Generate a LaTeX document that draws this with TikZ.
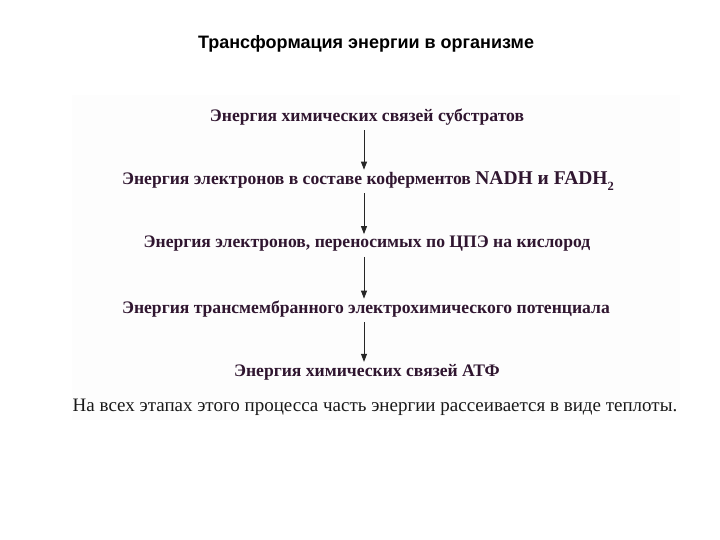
\documentclass[tikz,border=0pt]{standalone}
\usepackage{fontspec}
\setmainfont{Liberation Serif}
\newfontfamily\titlefont{Liberation Sans}
\usepackage{tikz}
\usetikzlibrary{arrows.meta}
\definecolor{inkplum}{RGB}{48,22,48}
\definecolor{scanbg}{RGB}{253,253,253}
\newcommand{\subtwo}{\raisebox{-0.6ex}{\fontsize{12.5}{13}\selectfont 2}}
\tikzset{
    stage/.style={inner sep=0pt, text=inkplum, font=\fontsize{17.6}{20}\selectfont\bfseries},
    flow/.style={-{Triangle[length=8pt,width=6pt]}, line width=0.9pt, black!85, shorten >=2pt},
}

\begin{document}
\begin{tikzpicture}[x=1pt,y=-1pt]
    \useasboundingbox (0,0) rectangle (720,540);
    \fill[scanbg] (72,95) rectangle (680,420);
    \node[font=\titlefont\fontsize{18}{21}\selectfont\bfseries] (title) at (366,44) {Трансформация энергии в организме};
    \node[stage] (s1) at (367,117) {Энергия химических связей субстратов};
    \node[stage] (s2) at (368,181) {Энергия электронов в составе коферментов {\fontsize{19.5}{21}\selectfont NADH и FADH\subtwo}};
    \node[stage] (s3) at (367,244) {Энергия электронов, переносимых по ЦПЭ на кислород};
    \node[stage] (s4) at (366,309) {Энергия трансмембранного электрохимического потенциала};
    \node[stage] (s5) at (367,372) {Энергия химических связей АТФ};
    \node[inner sep=0pt, text=black!90, font=\fontsize{19}{22}\selectfont] (note) at (375,407) {На всех этапах этого процесса часть энергии рассеивается в виде теплоты.};
    \draw[flow] ([xshift=-3]s1.south) ++(0,5) coordinate (a1) -- (a1 |- s2.north);
    \draw[flow] ([xshift=-4]s2.south) ++(0,3) coordinate (a2) -- (a2 |- s3.north);
    \draw[flow] ([xshift=-3]s3.south) ++(0,5) coordinate (a3) -- (a3 |- s4.north);
    \draw[flow] ([xshift=-2]s4.south) ++(0,5) coordinate (a4) -- (a4 |- s5.north);
\end{tikzpicture}
\end{document}
